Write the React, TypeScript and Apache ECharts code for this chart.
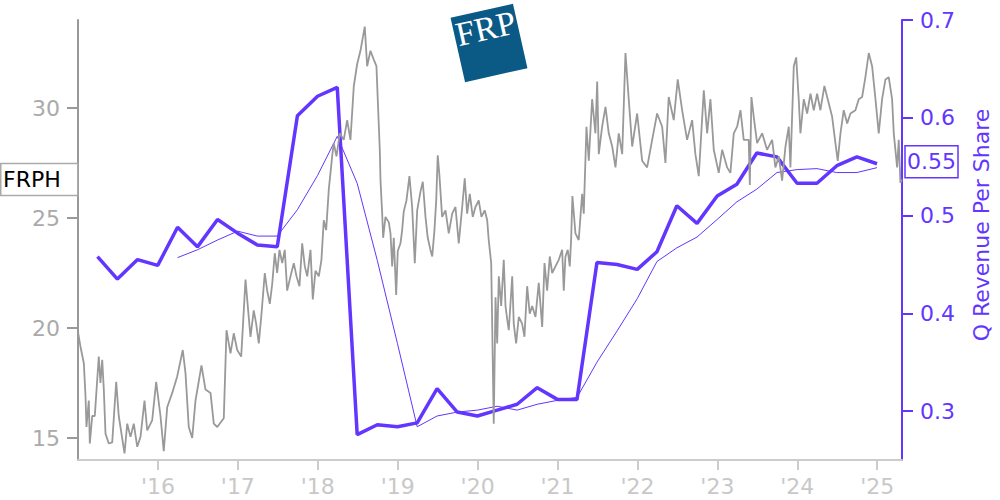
import React, { useEffect, useRef } from "react";
import * as echarts from "echarts";

const TICKER = "FRPH";
const REV_AXIS_NAME = "Q Revenue Per Share";
const PURPLE = "#6236ff";
const FONT = "DejaVu Sans";

// quarter-end dates for the revenue series
const quarterEnds = [
  "2015-03-31", "2015-06-30", "2015-09-30", "2015-12-31",
  "2016-03-31", "2016-06-30", "2016-09-30", "2016-12-31",
  "2017-03-31", "2017-06-30", "2017-09-30", "2017-12-31",
  "2018-03-31", "2018-06-30", "2018-09-30", "2018-12-31",
  "2019-03-31", "2019-06-30", "2019-09-30", "2019-12-31",
  "2020-03-31", "2020-06-30", "2020-09-30", "2020-12-31",
  "2021-03-31", "2021-06-30", "2021-09-30", "2021-12-31",
  "2022-03-31", "2022-06-30", "2022-09-30", "2022-12-31",
  "2023-03-31", "2023-06-30", "2023-09-30", "2023-12-31",
  "2024-03-31", "2024-06-30", "2024-09-30", "2024-12-31",
];

// quarterly revenue per share (thick line)
const revenuePerShare = [
  0.458, 0.435, 0.455, 0.449,
  0.488, 0.468, 0.496, 0.482,
  0.470, 0.468, 0.602, 0.622,
  0.631, 0.276, 0.286, 0.284,
  0.288, 0.323, 0.299, 0.295,
  0.301, 0.307, 0.324, 0.312,
  0.312, 0.452, 0.450, 0.445,
  0.463, 0.510, 0.492, 0.520,
  0.532, 0.564, 0.560, 0.533,
  0.533, 0.551, 0.560, 0.553,
];

// trailing average of revenue per share (thin line), from 2016-03-31 on
const revenueAvgFirstIndex = 4;
const revenueAvg = [
  0.457, 0.465, 0.475, 0.484,
  0.479, 0.479, 0.506, 0.541,
  0.581, 0.533, 0.454, 0.369,
  0.284, 0.295, 0.299, 0.301,
  0.305, 0.301, 0.307, 0.311,
  0.314, 0.350, 0.382, 0.415,
  0.453, 0.467, 0.478, 0.496,
  0.514, 0.527, 0.544, 0.547,
  0.548, 0.544, 0.544, 0.549,
];

// share price (decimal years / price)
const priceYears = [
  2015.003, 2015.031, 2015.073, 2015.094, 2015.106, 2015.135, 2015.148, 2015.178, 2015.210, 2015.260, 2015.281, 2015.303, 2015.323, 2015.344, 2015.385, 2015.428, 2015.478, 2015.510, 2015.582, 2015.616, 2015.657, 2015.698, 2015.741, 2015.782, 2015.832, 2015.866, 2015.928, 2015.978,
  2016.032, 2016.073, 2016.116, 2016.179, 2016.241, 2016.311, 2016.345, 2016.386, 2016.429, 2016.470, 2016.545, 2016.595, 2016.658, 2016.699, 2016.742, 2016.824, 2016.858, 2016.908, 2016.949, 2016.992,
  2017.042, 2017.096, 2017.129, 2017.158, 2017.199, 2017.229, 2017.262, 2017.296, 2017.337, 2017.367, 2017.400, 2017.430, 2017.462, 2017.492, 2017.521, 2017.555, 2017.587, 2017.617, 2017.659, 2017.700, 2017.734, 2017.771, 2017.805, 2017.838, 2017.868, 2017.909, 2017.938, 2017.971,
  2018.013, 2018.046, 2018.075, 2018.105, 2018.138, 2018.180, 2018.200, 2018.234, 2018.276, 2018.325, 2018.368, 2018.409, 2018.451, 2018.493, 2018.534, 2018.588, 2018.618, 2018.659, 2018.701, 2018.734, 2018.776, 2018.785, 2018.806, 2018.818, 2018.847, 2018.889, 2018.910, 2018.931, 2018.951, 2018.981,
  2019.001, 2019.035, 2019.056, 2019.076, 2019.110, 2019.147, 2019.181, 2019.214, 2019.244, 2019.285, 2019.314, 2019.348, 2019.376, 2019.410, 2019.432, 2019.460, 2019.482, 2019.501, 2019.523, 2019.556, 2019.598, 2019.639, 2019.682, 2019.723, 2019.764, 2019.807, 2019.839, 2019.869, 2019.902, 2019.939, 2019.973,
  2020.014, 2020.048, 2020.089, 2020.120, 2020.139, 2020.170, 2020.202, 2020.224, 2020.245, 2020.265, 2020.295, 2020.327, 2020.349, 2020.370, 2020.390, 2020.433, 2020.452, 2020.482, 2020.515, 2020.557, 2020.586, 2020.620, 2020.652, 2020.683, 2020.724, 2020.765, 2020.808, 2020.837, 2020.870, 2020.903, 2020.933, 2020.974,
  2021.015, 2021.058, 2021.078, 2021.099, 2021.128, 2021.153, 2021.170, 2021.186, 2021.224, 2021.265, 2021.308, 2021.328, 2021.362, 2021.391, 2021.433, 2021.474, 2021.496, 2021.516, 2021.558, 2021.600, 2021.641, 2021.684, 2021.725, 2021.766, 2021.809, 2021.850, 2021.891, 2021.934, 2021.996,
  2022.059, 2022.121, 2022.184, 2022.246, 2022.309, 2022.350, 2022.391, 2022.454, 2022.504, 2022.559, 2022.621, 2022.684, 2022.725, 2022.767, 2022.830, 2022.872, 2022.913, 2022.955,
  2023.017, 2023.060, 2023.122, 2023.163, 2023.205, 2023.247, 2023.289, 2023.330, 2023.392, 2023.406, 2023.426, 2023.455, 2023.497, 2023.560, 2023.622, 2023.685, 2023.726, 2023.768, 2023.810, 2023.852, 2023.893, 2023.914, 2023.956, 2023.986,
  2024.018, 2024.039, 2024.081, 2024.123, 2024.165, 2024.206, 2024.248, 2024.289, 2024.339, 2024.381, 2024.436, 2024.477, 2024.506, 2024.540, 2024.581, 2024.624, 2024.665, 2024.727, 2024.769, 2024.811, 2024.852, 2024.894, 2024.936, 2024.978,
  2025.019, 2025.061, 2025.103, 2025.144, 2025.186, 2025.207, 2025.249, 2025.269, 2025.290, 2025.309,
];

const priceValues = [
  19.76, 19.15, 18.4, 16.9, 15.5, 16.7, 14.75, 16.0, 16.0, 18.7, 17.5, 18.55, 17.2, 15.2, 14.75, 14.8, 17.55, 16.0, 14.3, 15.65, 15.05, 15.65, 14.6, 15.05, 16.7, 15.35, 15.8, 17.55,
  16.0, 14.4, 16.4, 17.05, 17.8, 19.0, 17.95, 15.5, 15.0, 16.7, 18.3, 17.2, 17.05, 15.65, 15.5, 15.9, 19.9, 18.85, 19.76, 19.0,
  18.7, 22.2, 20.8, 19.6, 20.8, 20.2, 19.3, 20.65, 22.5, 21.7, 21.1, 22.0, 23.4, 22.5, 23.55, 22.95, 23.55, 21.7, 22.35, 22.95, 22.35, 21.9, 23.85, 22.8, 22.35, 23.55, 21.3, 22.6,
  22.35, 23.1, 24.9, 24.45, 26.3, 27.8, 28.4, 27.8, 28.85, 28.55, 29.45, 28.55, 31.0, 32.0, 32.6, 33.7, 31.9, 32.6, 32.2, 31.9, 28.1, 26.7, 25.2, 24.1, 25.05, 24.8, 24.3, 22.8, 24.1, 21.5,
  23.5, 23.85, 24.45, 25.3, 25.8, 26.9, 25.5, 22.95, 25.35, 26.2, 26.65, 25.05, 24.1, 23.55, 23.25, 24.45, 25.8, 27.85, 26.9, 25.05, 25.35, 24.3, 25.2, 25.5, 23.85, 25.5, 26.8, 25.2, 26.1, 25.05, 25.5,
  25.8, 25.05, 25.35, 24.9, 24.0, 22.95, 15.65, 21.4, 19.3, 22.35, 21.0, 23.1, 21.0, 20.4, 19.9, 22.35, 20.2, 19.3, 20.5, 20.2, 19.6, 21.9, 20.65, 21.0, 20.5, 22.05, 20.05, 22.95, 21.7, 23.25, 22.5, 22.8,
  23.1, 23.55, 21.7, 23.25, 23.55, 22.8, 24.0, 26.0, 24.3, 24.0, 26.1, 25.2, 29.15, 27.6, 30.4, 28.85, 31.2, 27.9, 29.15, 30.05, 28.85, 28.25, 27.3, 28.85, 27.9, 32.5, 30.4, 28.25, 29.75,
  27.6, 27.3, 28.55, 29.75, 29.15, 27.5, 30.5, 29.45, 31.3, 29.9, 28.55, 29.45, 27.9, 26.9, 30.8, 28.85, 30.4, 28.1,
  27.05, 28.1, 27.3, 27.05, 28.85, 29.15, 29.9, 28.55, 28.55, 26.5, 30.5, 29.6, 28.4, 28.85, 28.1, 28.55, 27.3, 27.8, 26.7, 28.25, 29.15, 27.3, 31.9, 32.3,
  30.4, 28.85, 30.4, 29.75, 30.65, 29.9, 30.65, 29.9, 31.0, 30.4, 29.6, 28.4, 27.6, 28.85, 29.9, 29.3, 29.75, 29.9, 30.4, 30.5, 31.4, 32.5, 31.9, 30.4,
  28.85, 30.4, 31.3, 31.4, 30.4, 28.85, 27.3, 28.55, 26.6, 26.75,
];

const X_MIN_YEAR = 2015;
const X_MAX_YEAR = 2025.31;

function toYear(d: string): number {
  const [y, m, dd] = d.split("-").map(Number);
  const start = Date.UTC(y, 0, 1);
  const end = Date.UTC(y + 1, 0, 1);
  return y + (Date.UTC(y, m - 1, dd) - start) / (end - start);
}

export default function App() {
  const ref = useRef<HTMLDivElement>(null);

  useEffect(() => {
    if (!ref.current) return;
    const chart = echarts.init(ref.current, undefined, { renderer: "svg" });

    const qYears = quarterEnds.map(toYear);
    const revData = qYears.map((y, i) => [y, revenuePerShare[i]]);
    const avgData = revenueAvg.map((v, i) => [qYears[i + revenueAvgFirstIndex], v]);
    const priceData = priceYears.map((y, i) => [y, priceValues[i]]);

    const gridLeft = 78;
    const gridRight = 98;

    chart.setOption({
      animation: false,
      textStyle: { fontFamily: FONT },
      grid: { left: gridLeft, right: gridRight, top: 20, bottom: 40, containLabel: false },
      xAxis: {
        type: "value",
        min: X_MIN_YEAR,
        max: X_MAX_YEAR,
        interval: 1,
        axisLine: { show: true, lineStyle: { color: "#cccccc", width: 2 } },
        axisTick: { show: true, length: 10, lineStyle: { color: "#cccccc", width: 2 } },
        axisLabel: {
          color: "#c8c8c8",
          fontSize: 22,
          fontFamily: FONT,
          margin: 15,
          showMinLabel: false,
          showMaxLabel: false,
          formatter: (v: number) => "'" + String(Math.round(v)).slice(2),
        },
        splitLine: { show: false },
      },
      yAxis: [
        {
          type: "value",
          position: "left",
          min: 14,
          max: 34,
          splitNumber: 4,
          axisLine: { show: true, lineStyle: { color: "#999999", width: 2 } },
          axisTick: { show: true, length: 11, lineStyle: { color: "#999999", width: 2 } },
          axisLabel: {
            color: "#aaaaaa",
            fontSize: 22,
            fontFamily: FONT,
            margin: 18,
            showMinLabel: false,
            showMaxLabel: false,
          },
          splitLine: { show: false },
        },
        {
          type: "value",
          position: "right",
          min: 0.25,
          max: 0.7,
          splitNumber: 5,
          axisLine: { show: true, lineStyle: { color: PURPLE, width: 2 } },
          axisTick: { show: true, length: 11, lineStyle: { color: PURPLE, width: 2 } },
          axisLabel: {
            color: PURPLE,
            fontSize: 22,
            fontFamily: FONT,
            margin: 18,
            showMinLabel: false,
            formatter: (v: number) => String(Math.round(v * 100) / 100),
          },
          splitLine: { show: false },
        },
      ],
      series: [
        {
          type: "line",
          name: "Q Revenue Per Share",
          yAxisIndex: 1,
          data: revData,
          showSymbol: false,
          symbol: "none",
          lineStyle: { color: PURPLE, width: 3.5 },
          z: 2,
        },
        {
          type: "line",
          name: "Revenue Avg",
          yAxisIndex: 1,
          data: avgData,
          showSymbol: false,
          symbol: "none",
          lineStyle: { color: PURPLE, width: 1 },
          z: 2,
        },
        {
          type: "line",
          name: TICKER,
          yAxisIndex: 0,
          data: priceData,
          showSymbol: false,
          symbol: "none",
          lineStyle: { color: "#999999", width: 1.8 },
          z: 3,
        },
      ],
    });

    const lastPrice = priceValues[priceValues.length - 1];
    const lastRev = revenuePerShare[revenuePerShare.length - 1];
    const py = chart.convertToPixel({ yAxisIndex: 0 }, lastPrice) as number;
    const ry = chart.convertToPixel({ yAxisIndex: 1 }, lastRev) as number;
    const width = chart.getWidth();
    const axisRightX = width - gridRight;

    chart.setOption({
      graphic: [
        {
          type: "group",
          x: 489,
          y: 43,
          rotation: 0.222,
          z: 50,
          children: [
            {
              type: "rect",
              shape: { x: -32, y: -33, width: 64, height: 66 },
              style: { fill: "#0b5a86" },
            },
            {
              type: "text",
              x: 0,
              y: -32,
              style: {
                text: "FRP",
                align: "center",
                verticalAlign: "top",
                font: '34px "Liberation Serif"',
                fill: "#ffffff",
              },
            },
          ],
        },
        {
          type: "rect",
          z: 100,
          shape: { x: 0.75, y: py - 16, width: gridLeft - 1, height: 32 },
          style: { fill: "#ffffff", stroke: "#aaaaaa", lineWidth: 1.5 },
        },
        {
          type: "text",
          z: 101,
          x: 3,
          y: py,
          style: {
            text: TICKER,
            align: "left",
            verticalAlign: "middle",
            font: `22px "${FONT}"`,
            fill: "#000000",
          },
        },
        {
          type: "rect",
          z: 100,
          shape: { x: axisRightX + 3, y: ry - 18, width: 53, height: 32 },
          style: { fill: "#ffffff", stroke: PURPLE, lineWidth: 1.5 },
        },
        {
          type: "text",
          z: 101,
          x: axisRightX + 29.5,
          y: ry - 2,
          style: {
            text: lastRev.toFixed(2),
            align: "center",
            verticalAlign: "middle",
            font: `22px "${FONT}"`,
            fill: PURPLE,
          },
        },
        {
          type: "text",
          z: 101,
          x: 981,
          y: 225,
          rotation: Math.PI / 2,
          style: {
            text: REV_AXIS_NAME,
            align: "center",
            verticalAlign: "middle",
            font: `22px "${FONT}"`,
            fill: PURPLE,
          },
        },
      ],
    });

    return () => {
      chart.dispose();
    };
  }, []);

  return (
    <div
      ref={ref}
      style={{ position: "fixed", left: 0, top: 0, width: 1000, height: 500, background: "#ffffff" }}
    />
  );
}
